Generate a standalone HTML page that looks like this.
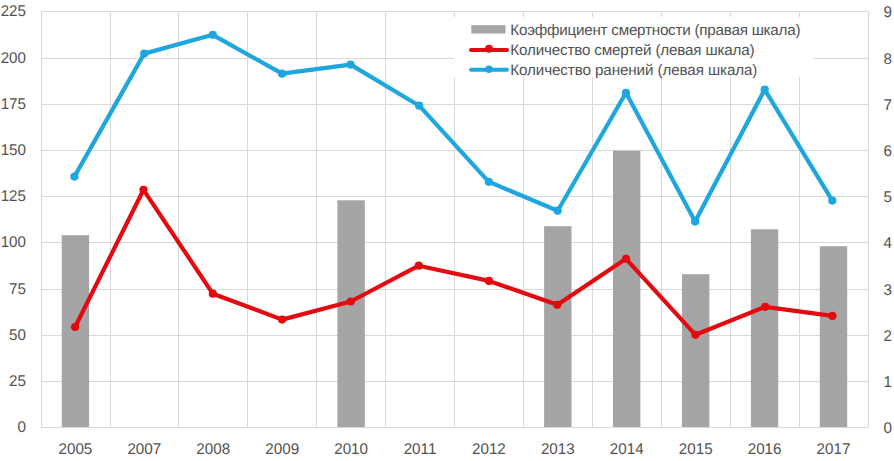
<!DOCTYPE html><html><head><meta charset="utf-8"><style>html,body{margin:0;padding:0;background:#fff;}svg{display:block}text{font-family:"Liberation Sans",sans-serif;fill:#525252;text-rendering:geometricPrecision}</style></head><body>
<svg width="894" height="461" viewBox="0 0 894 461">
<rect width="894" height="461" fill="#fff"/>
<path d="M41 427.5H869 M41 381.5H869 M41 335.5H869 M41 289.5H869 M41 242.5H869 M41 196.5H869 M41 150.5H869 M41 104.5H869 M41 58.5H869 M41 11.5H869 M41.5 11V428 M110.5 11V428 M178.5 11V428 M247.5 11V428 M316.5 11V428 M385.5 11V428 M454.5 11V428 M523.5 11V428 M592.5 11V428 M661.5 11V428 M730.5 11V428 M799.5 11V428 M868.5 11V428" stroke="#D9D9D9" stroke-width="1" fill="none"/>
<rect x="61.7" y="235.2" width="27.4" height="191.8" fill="#A5A5A5"/>
<rect x="337.4" y="200.3" width="27.4" height="226.7" fill="#A5A5A5"/>
<rect x="544.1" y="226.2" width="27.4" height="200.8" fill="#A5A5A5"/>
<rect x="613.0" y="150.7" width="27.4" height="276.3" fill="#A5A5A5"/>
<rect x="682.0" y="274.2" width="27.4" height="152.8" fill="#A5A5A5"/>
<rect x="750.9" y="229.3" width="27.4" height="197.7" fill="#A5A5A5"/>
<rect x="819.8" y="246.2" width="27.4" height="180.8" fill="#A5A5A5"/>
<path d="M75.1 327.0 L143.5 189.8 L212.8 293.7 L282.1 319.6 L350.7 301.5 L418.8 265.7 L489.0 280.9 L557.4 304.8 L626.0 258.8 L695.5 334.8 L765.2 306.8 L832.4 315.9" stroke="#E30B0F" stroke-width="4.2" fill="none" stroke-linejoin="round" stroke-linecap="round"/><circle cx="75.1" cy="327.0" r="4.1" fill="#E30B0F"/><circle cx="143.5" cy="189.8" r="4.1" fill="#E30B0F"/><circle cx="212.8" cy="293.7" r="4.1" fill="#E30B0F"/><circle cx="282.1" cy="319.6" r="4.1" fill="#E30B0F"/><circle cx="350.7" cy="301.5" r="4.1" fill="#E30B0F"/><circle cx="418.8" cy="265.7" r="4.1" fill="#E30B0F"/><circle cx="489.0" cy="280.9" r="4.1" fill="#E30B0F"/><circle cx="557.4" cy="304.8" r="4.1" fill="#E30B0F"/><circle cx="626.0" cy="258.8" r="4.1" fill="#E30B0F"/><circle cx="695.5" cy="334.8" r="4.1" fill="#E30B0F"/><circle cx="765.2" cy="306.8" r="4.1" fill="#E30B0F"/><circle cx="832.4" cy="315.9" r="4.1" fill="#E30B0F"/>
<path d="M74.4 176.6 L144.2 53.6 L212.8 34.8 L282.0 73.7 L350.6 64.6 L419.2 105.7 L488.8 181.8 L557.7 210.7 L626.0 92.8 L695.1 221.6 L764.7 89.6 L832.3 200.6" stroke="#1EA6DE" stroke-width="4.2" fill="none" stroke-linejoin="round" stroke-linecap="round"/><circle cx="74.4" cy="176.6" r="4.1" fill="#1EA6DE"/><circle cx="144.2" cy="53.6" r="4.1" fill="#1EA6DE"/><circle cx="212.8" cy="34.8" r="4.1" fill="#1EA6DE"/><circle cx="282.0" cy="73.7" r="4.1" fill="#1EA6DE"/><circle cx="350.6" cy="64.6" r="4.1" fill="#1EA6DE"/><circle cx="419.2" cy="105.7" r="4.1" fill="#1EA6DE"/><circle cx="488.8" cy="181.8" r="4.1" fill="#1EA6DE"/><circle cx="557.7" cy="210.7" r="4.1" fill="#1EA6DE"/><circle cx="626.0" cy="92.8" r="4.1" fill="#1EA6DE"/><circle cx="695.1" cy="221.6" r="4.1" fill="#1EA6DE"/><circle cx="764.7" cy="89.6" r="4.1" fill="#1EA6DE"/><circle cx="832.3" cy="200.6" r="4.1" fill="#1EA6DE"/>
<rect x="454" y="17" width="359" height="60" fill="#fff"/>
<rect x="471.3" y="25.2" width="34.2" height="8.3" fill="#A5A5A5"/>
<path d="M471 49.9H507" stroke="#E30B0F" stroke-width="4" stroke-linecap="round"/><circle cx="489" cy="48.7" r="4" fill="#E30B0F"/>
<path d="M471 69.8H507" stroke="#1EA6DE" stroke-width="3.9" stroke-linecap="round"/><circle cx="489" cy="69.3" r="3.8" fill="#1EA6DE"/>
<text x="510.3" y="34.5" font-size="15.2" textLength="290.2">Коэффициент смертности (правая шкала)</text>
<text x="510.3" y="54.6" font-size="15.2" textLength="244.3">Количество смертей (левая шкала)</text>
<text x="510.3" y="74.7" font-size="15.2" textLength="247.1">Количество ранений (левая шкала)</text>
<text transform="translate(26.0,432.4) scale(0.98,1)" font-size="15.5" text-anchor="end">0</text>
<text transform="translate(883.5,432.6) scale(0.98,1)" font-size="15.5" text-anchor="start">0</text>
<text transform="translate(26.0,386.4) scale(0.98,1)" font-size="15.5" text-anchor="end">25</text>
<text transform="translate(883.5,386.6) scale(0.98,1)" font-size="15.5" text-anchor="start">1</text>
<text transform="translate(26.0,340.4) scale(0.98,1)" font-size="15.5" text-anchor="end">50</text>
<text transform="translate(883.5,340.6) scale(0.98,1)" font-size="15.5" text-anchor="start">2</text>
<text transform="translate(26.0,294.4) scale(0.98,1)" font-size="15.5" text-anchor="end">75</text>
<text transform="translate(883.5,294.6) scale(0.98,1)" font-size="15.5" text-anchor="start">3</text>
<text transform="translate(26.0,247.4) scale(0.98,1)" font-size="15.5" text-anchor="end">100</text>
<text transform="translate(883.5,247.6) scale(0.98,1)" font-size="15.5" text-anchor="start">4</text>
<text transform="translate(26.0,201.4) scale(0.98,1)" font-size="15.5" text-anchor="end">125</text>
<text transform="translate(883.5,201.6) scale(0.98,1)" font-size="15.5" text-anchor="start">5</text>
<text transform="translate(26.0,155.4) scale(0.98,1)" font-size="15.5" text-anchor="end">150</text>
<text transform="translate(883.5,155.6) scale(0.98,1)" font-size="15.5" text-anchor="start">6</text>
<text transform="translate(26.0,109.4) scale(0.98,1)" font-size="15.5" text-anchor="end">175</text>
<text transform="translate(883.5,109.6) scale(0.98,1)" font-size="15.5" text-anchor="start">7</text>
<text transform="translate(26.0,63.4) scale(0.98,1)" font-size="15.5" text-anchor="end">200</text>
<text transform="translate(883.5,63.6) scale(0.98,1)" font-size="15.5" text-anchor="start">8</text>
<text transform="translate(26.0,16.4) scale(0.98,1)" font-size="15.5" text-anchor="end">225</text>
<text transform="translate(883.5,16.6) scale(0.98,1)" font-size="15.5" text-anchor="start">9</text>
<text transform="translate(75.4,453.9) scale(0.98,1)" font-size="15.5" text-anchor="middle">2005</text>
<text transform="translate(144.3,453.9) scale(0.98,1)" font-size="15.5" text-anchor="middle">2007</text>
<text transform="translate(213.2,453.9) scale(0.98,1)" font-size="15.5" text-anchor="middle">2008</text>
<text transform="translate(282.2,453.9) scale(0.98,1)" font-size="15.5" text-anchor="middle">2009</text>
<text transform="translate(351.1,453.9) scale(0.98,1)" font-size="15.5" text-anchor="middle">2010</text>
<text transform="translate(420.0,453.9) scale(0.98,1)" font-size="15.5" text-anchor="middle">2011</text>
<text transform="translate(488.9,453.9) scale(0.98,1)" font-size="15.5" text-anchor="middle">2012</text>
<text transform="translate(557.8,453.9) scale(0.98,1)" font-size="15.5" text-anchor="middle">2013</text>
<text transform="translate(626.7,453.9) scale(0.98,1)" font-size="15.5" text-anchor="middle">2014</text>
<text transform="translate(695.7,453.9) scale(0.98,1)" font-size="15.5" text-anchor="middle">2015</text>
<text transform="translate(764.6,453.9) scale(0.98,1)" font-size="15.5" text-anchor="middle">2016</text>
<text transform="translate(833.5,453.9) scale(0.98,1)" font-size="15.5" text-anchor="middle">2017</text>
</svg></body></html>
